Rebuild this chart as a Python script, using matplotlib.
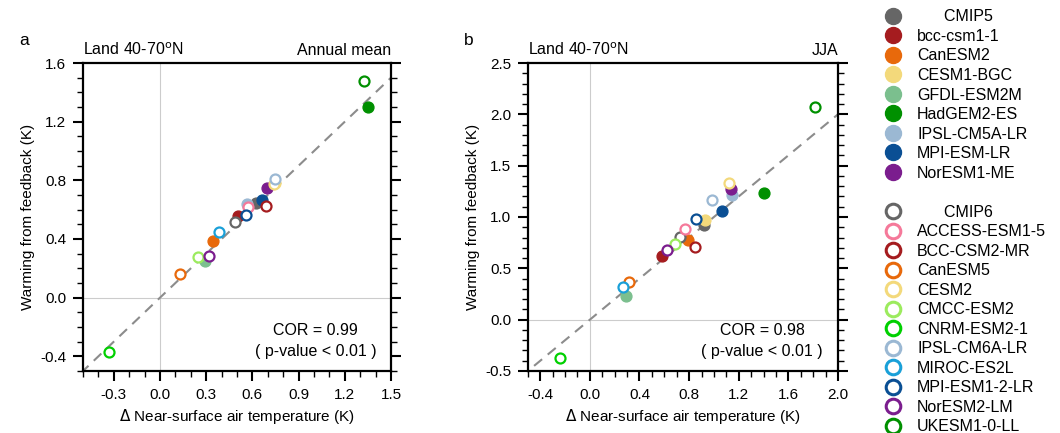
import matplotlib
matplotlib.use('Agg')
import matplotlib.pyplot as plt
from matplotlib.ticker import MultipleLocator
from matplotlib.lines import Line2D

plt.rcParams['font.family'] = ['Liberation Sans', 'DejaVu Sans']

# ── Models and colours ───────────────────────────────────────────────────────
cmip5_models = ['CMIP5', 'bcc-csm1-1', 'CanESM2', 'CESM1-BGC', 'GFDL-ESM2M',
                'HadGEM2-ES', 'IPSL-CM5A-LR', 'MPI-ESM-LR', 'NorESM1-ME']
cmip5_colors = ['#666666', '#a51c1f', '#e8690b', '#f3d97b', '#7bbf8e',
                '#009000', '#9bb8d3', '#0a4f94', '#7b1d8e']

cmip6_models = ['CMIP6', 'ACCESS-ESM1-5', 'BCC-CSM2-MR', 'CanESM5', 'CESM2',
                'CMCC-ESM2', 'CNRM-ESM2-1', 'IPSL-CM6A-LR', 'MIROC-ES2L',
                'MPI-ESM1-2-LR', 'NorESM2-LM', 'UKESM1-0-LL']
cmip6_colors = ['#666666', '#f5799a', '#a51c1f', '#e8690b', '#f3d97b',
                '#9ceb5e', '#00d000', '#9bb8d3', '#1aa0d8', '#0a4f94',
                '#7b1d8e', '#009000']

# ── Panel a: annual mean (dT, feedback warming) ─────────────────────────────
a5_x = [0.623, 0.508, 0.347, 0.745, 0.291, 1.350, 0.562, 0.662, 0.692]
a5_y = [0.647, 0.558, 0.387, 0.780, 0.248, 1.300, 0.636, 0.666, 0.745]
a6_x = [0.488, 0.573, 0.686, 0.128, 0.740, 0.245, -0.334, 0.747, 0.382,
        0.558, 0.319, 1.326]
a6_y = [0.513, 0.620, 0.627, 0.160, 0.775, 0.274, -0.369, 0.809, 0.449,
        0.563, 0.285, 1.475]

# ── Panel b: JJA ────────────────────────────────────────────────────────────
b5_x = [0.919, 0.583, 0.791, 0.927, 0.290, 1.407, 1.149, 1.068, 1.138]
b5_y = [0.922, 0.619, 0.772, 0.970, 0.231, 1.235, 1.215, 1.055, 1.270]
b6_x = [0.729, 0.770, 0.851, 0.317, 1.125, 0.683, -0.244, 0.986, 0.266,
        0.859, 0.623, 1.816]
b6_y = [0.808, 0.883, 0.710, 0.365, 1.335, 0.739, -0.375, 1.170, 0.316,
        0.977, 0.677, 2.070]

panels = [
    dict(letter='a', season='Annual mean', x5=a5_x, y5=a5_y, x6=a6_x, y6=a6_y,
         xlim=(-0.5, 1.5), ylim=(-0.5, 1.6),
         xticks=[-0.3, 0.0, 0.3, 0.6, 0.9, 1.2, 1.5],
         yticks=[-0.4, 0.0, 0.4, 0.8, 1.2, 1.6], cor='0.99',
         rect=[0.0783, 0.1432, 0.2906, 0.7113]),
    dict(letter='b', season='JJA', x5=b5_x, y5=b5_y, x6=b6_x, y6=b6_y,
         xlim=(-0.5, 2.0), ylim=(-0.5, 2.5),
         xticks=[-0.4, 0.0, 0.4, 0.8, 1.2, 1.6, 2.0],
         yticks=[-0.5, 0.0, 0.5, 1.0, 1.5, 2.0, 2.5], cor='0.98',
         rect=[0.498, 0.1432, 0.2925, 0.7113]),
]

fig = plt.figure(figsize=(10.6, 4.33), dpi=100)

ms = 7.8
for p in panels:
    ax = fig.add_axes(p['rect'])
    ax.axhline(0, color='#cccccc', lw=0.8, zorder=0)
    ax.axvline(0, color='#cccccc', lw=0.8, zorder=0)
    ax.plot([-1, 3], [-1, 3], ls=(0, (5, 3.5)), color='#8c8c8c', lw=1.5,
            zorder=1)

    for xi, yi, c in zip(p['x5'], p['y5'], cmip5_colors):
        ax.plot(xi, yi, 'o', ms=ms, color=c, mec=c, zorder=3)
    for xi, yi, c in zip(p['x6'], p['y6'], cmip6_colors):
        ax.plot(xi, yi, 'o', ms=ms - 0.6, mfc='white', mec=c, mew=1.6,
                zorder=4)

    ax.set_xlim(*p['xlim'])
    ax.set_ylim(*p['ylim'])
    ax.set_xticks(p['xticks'])
    ax.set_yticks(p['yticks'])
    ax.set_xticklabels([f'{v:.1f}' for v in p['xticks']])
    ax.set_yticklabels([f'{v:.1f}' for v in p['yticks']])
    ax.xaxis.set_minor_locator(MultipleLocator(0.1))
    ax.yaxis.set_minor_locator(MultipleLocator(0.1))
    ax.tick_params(which='both', direction='out', top=False, right=True,
                   labelsize=11, pad=5)
    ax.tick_params(which='major', length=7, width=1.5)
    ax.tick_params(which='minor', length=4, width=1.0)
    for s in ax.spines.values():
        s.set_linewidth(1.6)

    ax.set_xlabel('$\\Delta$ Near-surface air temperature (K)', fontsize=11,
                  labelpad=4)
    ax.set_ylabel('Warming from feedback (K)', fontsize=11, labelpad=4)
    ax.text(0.0, 1.015, 'Land 40-70$^\\mathrm{o}$N', transform=ax.transAxes,
            ha='left', va='bottom', fontsize=11.5)
    ax.text(1.0, 1.015, p['season'], transform=ax.transAxes,
            ha='right', va='bottom', fontsize=11.5)
    ax.text(-0.19, 1.05, p['letter'], transform=ax.transAxes,
            ha='center', va='bottom', fontsize=12.5)
    ax.text(0.755, 0.13, f"COR = {p['cor']}", transform=ax.transAxes,
            ha='center', va='center', fontsize=11.5)
    ax.text(0.755, 0.062, '( p-value < 0.01 )', transform=ax.transAxes,
            ha='center', va='center', fontsize=11.5)

# ── Legend ──────────────────────────────────────────────────────────────────
h5 = [Line2D([], [], ls='none', marker='o', ms=11.5, color=c) for c in cmip5_colors]
h6 = [Line2D([], [], ls='none', marker='o', ms=10.5, mfc='white', mec=c, mew=2.2)
      for c in cmip6_colors]
lab5 = ['      ' + cmip5_models[0]] + cmip5_models[1:]
lab6 = ['      ' + cmip6_models[0]] + cmip6_models[1:]
blank = Line2D([], [], ls='none')
leg = fig.legend(h5 + [blank] + h6, lab5 + [''] + lab6,
                 loc='upper left', bbox_to_anchor=(0.8275, 0.993),
                 frameon=False, fontsize=11.5, handletextpad=0.9,
                 labelspacing=0.283, handlelength=1.2, borderaxespad=0)

fig.savefig('out.png', dpi=100)
